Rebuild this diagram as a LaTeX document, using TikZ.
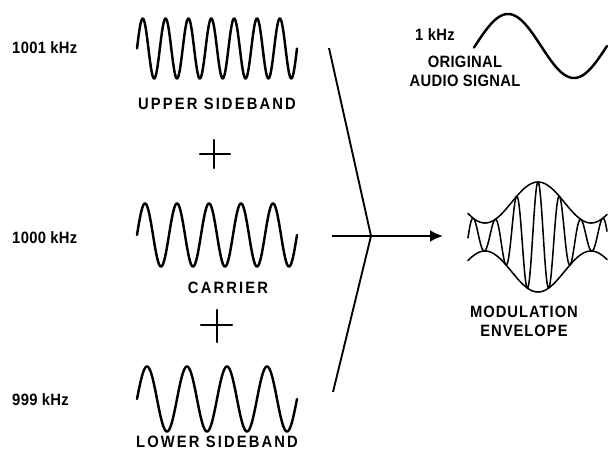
\documentclass[tikz,border=0pt]{standalone}
\usepackage{fontspec}
\newfontfamily\lblfont[FakeStretch=0.9]{Liberation Sans}
\usepackage{tikz}
\usetikzlibrary{arrows.meta, positioning}
\tikzset{
  lbl/.style={font=\lblfont\addfontfeatures{LetterSpace=13}\bfseries\fontsize{14}{16}\selectfont,
    inner sep=0pt, align=center},
  midlbl/.style={lbl, font=\lblfont\addfontfeatures{LetterSpace=6}\bfseries\fontsize{14}{16}\selectfont},
  tightlbl/.style={lbl, font=\lblfont\addfontfeatures{LetterSpace=2}\bfseries\fontsize{14}{16}\selectfont},
  freq/.style={tightlbl, anchor=west},
  wave/.style={line width=2.1pt, line cap=round, line join=round},
  thinwave/.style={line width=1.3pt, line cap=round, line join=round},
  line/.style={line width=1.6pt, color=black},
  arrow/.style={-{Latex[length=11pt,width=10pt]}, line width=1.6pt, color=black}
}

\begin{document}
\begin{tikzpicture}[x=0.3mm, y=-0.3mm, node distance=4pt]
  \useasboundingbox (0,0) rectangle (608,456);

  \draw[wave] plot[domain=137:297, samples=300] (\x, {48.5-30*sin(15.75*(\x-137))});
  \draw[wave] plot[domain=137:297, samples=300] (\x, {235-31.5*sin(11.25*(\x-137))});
  \draw[wave] plot[domain=137:297, samples=300] (\x, {399-32.5*sin(9*(\x-137))});

  \node[freq] (fup)  at (12,48)  {1001 kHz};
  \node[freq] (fcar) at (12,238) {1000 kHz};
  \node[freq] (flow) at (12,400) {999 kHz};

  \node[lbl] (usb) at (217,104) {UPPER SIDEBAND};
  \node[lbl] (car) at (228,288) {CARRIER};
  \node[lbl] (lsb) at (217,442) {LOWER SIDEBAND};

  \draw[wave] (200,154) -- (230,154) (214,140) -- (214,168);
  \draw[wave] (201,325) -- (232,325) (217,310) -- (217,342);

  \coordinate (brtop)  at (329,48);
  \coordinate (join)   at (371,236);
  \coordinate (brbot)  at (333,392);
  \coordinate (arrin)  at (332,236);
  \coordinate (arrout) at (443,236);
  \draw[line] (brtop) -- (join) -- (brbot);
  \draw[arrow] (arrin) -- (arrout);

  \draw[wave] plot[domain=474:607, samples=150] (\x, {46-32*sin(2.727*(\x-475))});
  \node[tightlbl] (khz) at (435,35) {1 kHz};
  \node[tightlbl] (audio) at (465,71) {ORIGINAL\\AUDIO SIGNAL};

  \draw[thinwave] plot[domain=468:607, samples=200]
    (\x, {237-(34.5+20.5*cos(3.396*(\x-538)))});
  \draw[thinwave] plot[domain=468:607, samples=200]
    (\x, {237+(34.5+20.5*cos(3.396*(\x-538)))});
  \draw[thinwave] plot[domain=468:607, samples=500]
    (\x, {237-(34.5+20.5*cos(3.396*(\x-538)))*cos(16.744*(\x-538))});
  \node[midlbl] (env) at (524,321) {MODULATION\\ENVELOPE};
\end{tikzpicture}
\end{document}
